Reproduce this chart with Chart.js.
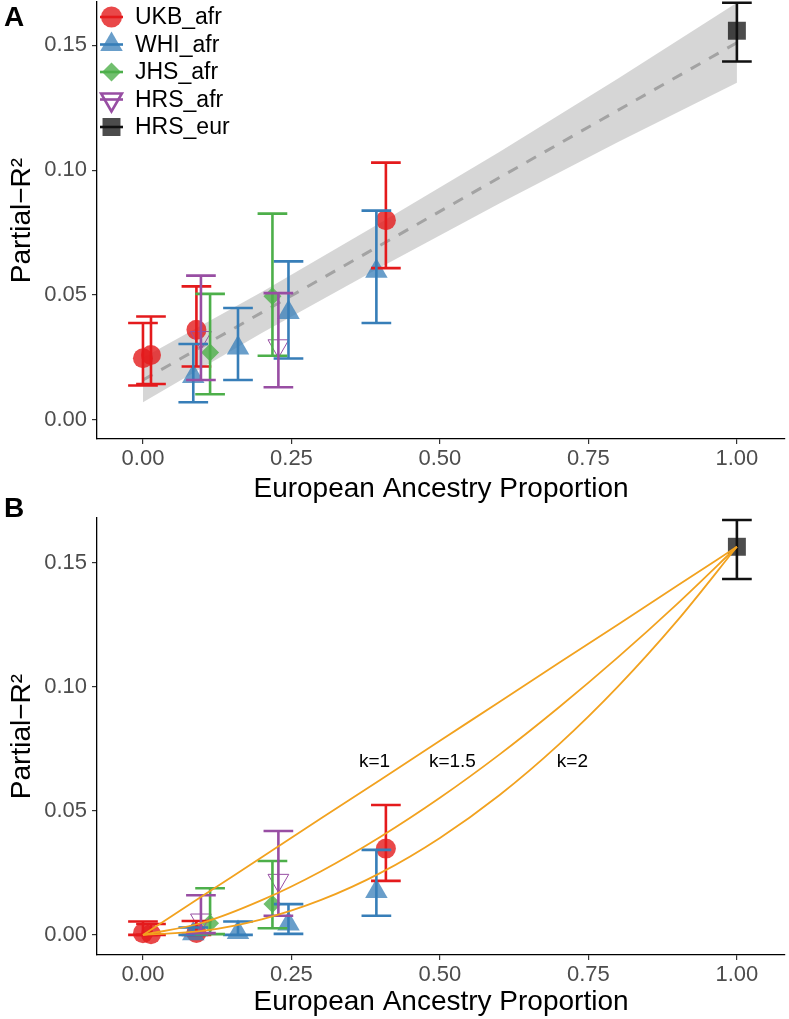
<!DOCTYPE html>
<html>
<head>
<meta charset="utf-8">
<script src="https://cdn.jsdelivr.net/npm/chart.js@4.4.0/dist/chart.umd.min.js"></script>
<style>
  body { margin: 0; background: #fff; width: 789px; height: 1019px; position: relative; overflow: hidden;
         font-family: "Liberation Sans", Arial, sans-serif; }
  .wrap { position: absolute; left: 0; width: 789px; }
  .tag { position: absolute; left: 4px; font-weight: bold; font-size: 28px; line-height: 28px; color: #000; }
</style>
</head>
<body>
<div class="wrap" style="top:0;height:510px"><canvas id="chartA"></canvas></div>
<div class="wrap" style="top:510px;height:509px"><canvas id="chartB"></canvas></div>
<div class="tag" style="top:3px">A</div>
<div class="tag" style="top:494px">B</div>
<script>
// x axis ticks
var xTicks = [0, 0.25, 0.5, 0.75, 1.0];
var yTicks = [0, 0.05, 0.10, 0.15];

// European ancestry proportion of each cohort
var ukbX    = [0.000, 0.0135, 0.090, 0.409];
var whiX    = [0.0847, 0.160, 0.245, 0.393];
var jhsX    = [0.113, 0.218];
var hrsAfrX = [0.0976, 0.228];
var hrsEurX = [1.0];

// panel A: partial R2 + 95% CI
var ukbA      = [0.0247, 0.0260, 0.0361, 0.0800];
var ukbALo    = [0.0138, 0.0144, 0.0214, 0.0608];
var ukbAHi    = [0.0388, 0.0414, 0.0535, 0.1030];
var whiA      = [0.0174, 0.0288, 0.0430, 0.0595];
var whiALo    = [0.0071, 0.0160, 0.0246, 0.0388];
var whiAHi    = [0.0304, 0.0448, 0.0635, 0.0838];
var jhsA      = [0.0270, 0.0495];
var jhsALo    = [0.0103, 0.0257];
var jhsAHi    = [0.0505, 0.0826];
var hrsAfrA   = [0.0330, 0.0297];
var hrsAfrALo = [0.0160, 0.0131];
var hrsAfrAHi = [0.0578, 0.0508];
var hrsEurA   = [0.1558];
var hrsEurALo = [0.1435];
var hrsEurAHi = [0.1670];

// panel A: linear fit and its confidence band
var fitX      = [0, 1];
var fitY      = [0.016, 0.151];
var ribbonX   = [0, 0.2, 0.4, 0.6, 0.8, 1.0];
var ribbonLo  = [0.0071, 0.0348, 0.0611, 0.0867, 0.1113, 0.1350];
var ribbonHi  = [0.0249, 0.0512, 0.0789, 0.1073, 0.1367, 0.1670];

// panel B: partial R2 + 95% CI
var ukbB      = [0.0007, 0.0003, 0.0008, 0.0348];
var ukbBLo    = [0.0000, 0.0000, 0.0000, 0.0218];
var ukbBHi    = [0.0054, 0.0044, 0.0056, 0.0524];
var whiB      = [0.0005, 0.0010, 0.0044, 0.0175];
var whiBLo    = [0.0000, 0.0000, 0.0004, 0.0077];
var whiBHi    = [0.0030, 0.0054, 0.0124, 0.0343];
var jhsB      = [0.0047, 0.0125];
var jhsBLo    = [0.0003, 0.0027];
var jhsBHi    = [0.0188, 0.0298];
var hrsAfrB   = [0.0060, 0.0220];
var hrsAfrBLo = [0.0007, 0.0077];
var hrsAfrBHi = [0.0160, 0.0419];
var hrsEurB   = [0.1565];
var hrsEurBLo = [0.1435];
var hrsEurBHi = [0.1673];

// panel B: expected curves
var curveX  = [0, 0.1, 0.2, 0.3, 0.4, 0.5, 0.6, 0.7, 0.8, 0.9, 1.0];
var curveK1  = [0, 0.0157, 0.0313, 0.0470, 0.0626, 0.0783, 0.0939, 0.1096, 0.1252, 0.1409, 0.1565];
var curveK15 = [0, 0.0049, 0.0140, 0.0257, 0.0396, 0.0553, 0.0727, 0.0917, 0.1120, 0.1336, 0.1565];
var curveK2  = [0, 0.0016, 0.0063, 0.0141, 0.0250, 0.0391, 0.0563, 0.0767, 0.1002, 0.1268, 0.1565];
var curveLabels = ["k=1", "k=1.5", "k=2"];
var curveLabelX = [0.390, 0.521, 0.723];
var curveLabelY = [0.0698, 0.0698, 0.0698];

var seriesNames = ["UKB_afr", "WHI_afr", "JHS_afr", "HRS_afr", "HRS_eur"];

var FONT = '"Liberation Sans", Arial, sans-serif';
var RED = "#E41A1C", BLUE = "#377EB8", GREEN = "#4DAF4A", PURPLE = "#984EA3", BLACK = "#111111";
var ORANGE = "#F2A21F";

function pts(xs, ys) { return xs.map(function (x, i) { return { x: x, y: ys[i] }; }); }

function pointSets(a, b, c, d, e) {
  return [
    { label: seriesNames[0], data: pts(ukbX, a), pointStyle: "circle", pointRadius: 10,
      backgroundColor: "rgba(228,26,28,0.8)", borderWidth: 0, order: 10 },
    { label: seriesNames[1], data: pts(whiX, b), pointStyle: "triangle", pointRadius: 13,
      backgroundColor: "rgba(55,126,184,0.75)", borderWidth: 0, order: 9 },
    { label: seriesNames[2], data: pts(jhsX, c), pointStyle: "rectRot", pointRadius: 9,
      backgroundColor: "rgba(77,175,74,0.8)", borderWidth: 0, order: 8 },
    { label: seriesNames[3], data: pts(hrsAfrX, d), pointStyle: "triangle", pointRotation: 180, pointRadius: 12,
      backgroundColor: "rgba(0,0,0,0)", borderColor: PURPLE, borderWidth: 1, order: 7 },
    { label: seriesNames[4], data: pts(hrsEurX, e), pointStyle: "rect", pointRadius: 12.7,
      backgroundColor: "rgba(0,0,0,0.7)", borderWidth: 0, order: 6 }
  ];
}

// error bars drawn right after the last point layer
function errorBars(groups, lastIdx) {
  return {
    id: "errorBars",
    afterDatasetDraw: function (chart, args) {
      if (args.index !== lastIdx) return;
      var ctx = chart.ctx, xs = chart.scales.x, ys = chart.scales.y;
      var cap = 0.025;
      ctx.save();
      ctx.lineWidth = 2.6;
      groups.forEach(function (g) {
        ctx.strokeStyle = g.color;
        g.x.forEach(function (v, i) {
          var px = xs.getPixelForValue(v);
          var l = xs.getPixelForValue(v - cap), r = xs.getPixelForValue(v + cap);
          var top = ys.getPixelForValue(g.hi[i]), bot = ys.getPixelForValue(g.lo[i]);
          ctx.beginPath();
          ctx.moveTo(px, top); ctx.lineTo(px, bot);
          ctx.moveTo(l, top); ctx.lineTo(r, top);
          ctx.moveTo(l, bot); ctx.lineTo(r, bot);
          ctx.stroke();
        });
      });
      ctx.restore();
    }
  };
}

var legendPlugin = {
  id: "ggLegend",
  afterDraw: function (chart) {
    var ctx = chart.ctx;
    var items = [
      { style: "circle", r: 10.5, fill: "rgba(228,26,28,0.8)", bar: RED },
      { style: "triangle", r: 13, fill: "rgba(55,126,184,0.75)", bar: BLUE },
      { style: "rectRot", r: 9.5, fill: "rgba(77,175,74,0.8)", bar: GREEN },
      { style: "triangle", r: 12, rot: 180, fill: "rgba(0,0,0,0)", stroke: PURPLE, bw: 1, bar: PURPLE },
      { style: "rect", r: 12.7, fill: "rgba(0,0,0,0.7)", bar: BLACK }
    ];
    ctx.save();
    items.forEach(function (it, i) {
      var cy = 17 + i * 27.5, cx = 111.5;
      ctx.fillStyle = it.fill;
      ctx.strokeStyle = it.stroke || it.fill;
      Chart.helpers.drawPoint(ctx, { pointStyle: it.style, radius: it.r, rotation: it.rot || 0, borderWidth: it.bw || 0 }, cx, cy);
      ctx.strokeStyle = it.bar;
      ctx.lineWidth = 2.6;
      ctx.beginPath(); ctx.moveTo(100, cy); ctx.lineTo(123, cy); ctx.stroke();
      ctx.fillStyle = "#000";
      ctx.font = "23px " + FONT;
      ctx.textBaseline = "middle";
      ctx.textAlign = "left";
      ctx.fillText(seriesNames[i], 135, cy + 1);
    });
    ctx.restore();
  }
};

var curveLabelPlugin = {
  id: "curveLabels",
  afterDatasetsDraw: function (chart) {
    var ctx = chart.ctx, xs = chart.scales.x, ys = chart.scales.y;
    ctx.save();
    ctx.fillStyle = "#000";
    ctx.font = "19px " + FONT;
    ctx.textAlign = "center";
    ctx.textBaseline = "middle";
    curveLabels.forEach(function (t, i) {
      ctx.fillText(t, xs.getPixelForValue(curveLabelX[i]), ys.getPixelForValue(curveLabelY[i]));
    });
    ctx.restore();
  }
};

function axes(yMin, yMax, xHeight, titlePad) {
  return {
    x: {
      type: "linear", min: -0.0774, max: 1.081,
      afterBuildTicks: function (s) { s.ticks = xTicks.map(function (v) { return { value: v }; }); },
      afterFit: function (s) { s.height = xHeight; s.paddingLeft = 0; s.paddingRight = 0; },
      ticks: { callback: function (v) { return v.toFixed(2); }, color: "#4d4d4d", font: { size: 22, family: FONT },
               padding: 2, maxRotation: 0, autoSkip: false },
      grid: { display: true, drawOnChartArea: false, drawTicks: true, tickLength: 5, color: "#333", lineWidth: 1.2 },
      border: { display: true, color: "#000", width: 1.3 },
      title: { display: true, text: "European Ancestry Proportion", color: "#000",
               font: { size: 28, family: FONT }, padding: { top: 0, bottom: titlePad } }
    },
    y: {
      type: "linear", min: yMin, max: yMax,
      afterBuildTicks: function (s) { s.ticks = yTicks.map(function (v) { return { value: v }; }); },
      afterFit: function (s) { s.width = 97; s.paddingTop = 0; s.paddingBottom = 0; },
      ticks: { callback: function (v) { return v.toFixed(2); }, color: "#4d4d4d", font: { size: 22, family: FONT },
               padding: 5, autoSkip: false },
      grid: { display: true, drawOnChartArea: false, drawTicks: true, tickLength: 5, color: "#333", lineWidth: 1.2 },
      border: { display: true, color: "#000", width: 1.3 },
      title: { display: true, text: "Partial\u2212R\u00B2", color: "#000",
               font: { size: 28, family: FONT }, padding: { top: 5, bottom: 0 } }
    }
  };
}

var common = {
  responsive: true, maintainAspectRatio: false, animation: false, events: [],
  plugins: { legend: { display: false }, tooltip: { enabled: false } }
};

// ---- panel A
var setsA = pointSets(ukbA, whiA, jhsA, hrsAfrA, hrsEurA);
var lineA = [
  { type: "line", data: pts(ribbonX, ribbonLo), borderWidth: 0, pointRadius: 0, fill: false, order: 20 },
  { type: "line", data: pts(ribbonX, ribbonHi), borderWidth: 0, pointRadius: 0, fill: "-1",
    backgroundColor: "rgba(153,153,153,0.4)", order: 19 },
  { type: "line", data: pts(fitX, fitY), borderColor: "#a3a3a3", borderWidth: 3, borderDash: [11, 10],
    pointRadius: 0, fill: false, order: 18 }
];
new Chart(document.getElementById("chartA"), {
  type: "scatter",
  data: { datasets: setsA.concat(lineA) },
  options: Object.assign({}, common, {
    layout: { autoPadding: false, padding: { left: 0, right: 4, top: 2, bottom: 0 } },
    scales: axes(-0.0076, 0.1673, 71, 4)
  }),
  plugins: [errorBars([
    { x: ukbX, lo: ukbALo, hi: ukbAHi, color: RED },
    { x: whiX, lo: whiALo, hi: whiAHi, color: BLUE },
    { x: jhsX, lo: jhsALo, hi: jhsAHi, color: GREEN },
    { x: hrsAfrX, lo: hrsAfrALo, hi: hrsAfrAHi, color: PURPLE },
    { x: hrsEurX, lo: hrsEurALo, hi: hrsEurAHi, color: BLACK }
  ], 4), legendPlugin]
});

// ---- panel B
var setsB = pointSets(ukbB, whiB, jhsB, hrsAfrB, hrsEurB);
var curvesB = [curveK1, curveK15, curveK2].map(function (c) {
  return { type: "line", data: pts(curveX, c), borderColor: ORANGE, borderWidth: 1.8, pointRadius: 0,
           fill: false, cubicInterpolationMode: "monotone", order: 1 };
});
new Chart(document.getElementById("chartB"), {
  type: "scatter",
  data: { datasets: setsB.concat(curvesB) },
  options: Object.assign({}, common, {
    layout: { autoPadding: false, padding: { left: 0, right: 4, top: 8, bottom: 0 } },
    scales: axes(-0.0081, 0.1681, 64, 0)
  }),
  plugins: [errorBars([
    { x: ukbX, lo: ukbBLo, hi: ukbBHi, color: RED },
    { x: whiX, lo: whiBLo, hi: whiBHi, color: BLUE },
    { x: jhsX, lo: jhsBLo, hi: jhsBHi, color: GREEN },
    { x: hrsAfrX, lo: hrsAfrBLo, hi: hrsAfrBHi, color: PURPLE },
    { x: hrsEurX, lo: hrsEurBLo, hi: hrsEurBHi, color: BLACK }
  ], 4), curveLabelPlugin]
});
</script>
</body>
</html>
